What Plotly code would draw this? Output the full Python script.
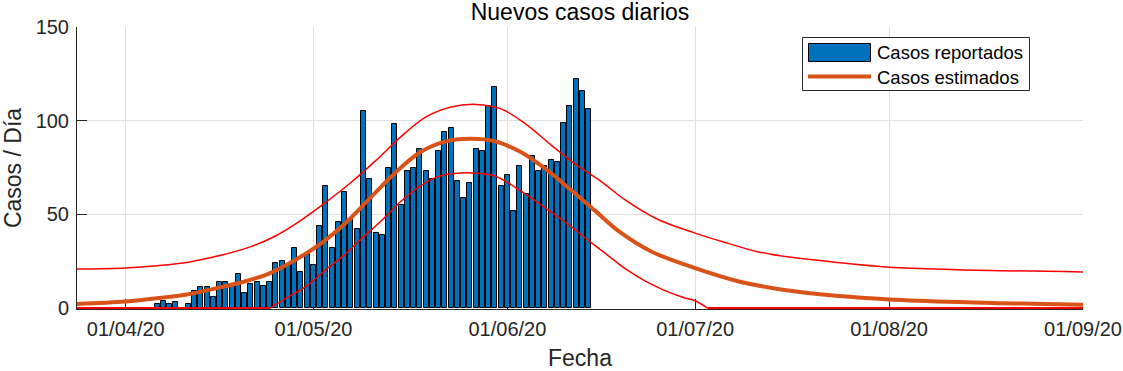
import pandas as pd
import plotly.graph_objects as go

# ---------------- data ----------------
bar_start = "2020-04-06"
bar_values = [2, 4, 2, 3, 0, 2, 9, 11, 11, 6, 14, 14, 12, 18, 8, 13, 14, 12, 14, 24,
              25, 23, 32, 19, 29, 23, 44, 65, 32, 46, 62, 47, 42, 105, 69, 40, 39, 75, 98, 55,
              73, 75, 85, 73, 69, 84, 94, 96, 68, 59, 67, 85, 84, 108, 118, 65, 71, 52, 76, 61,
              81, 73, 76, 79, 78, 99, 108, 122, 116, 106]
bar_dates = pd.date_range(bar_start, periods=len(bar_values), freq="D")

est_dates = ["2020-03-24", "2020-04-01", "2020-04-06", "2020-04-11", "2020-04-16", "2020-04-20",
             "2020-04-24", "2020-04-28", "2020-05-02", "2020-05-06", "2020-05-10", "2020-05-14",
             "2020-05-18", "2020-05-22", "2020-05-26", "2020-05-30", "2020-06-03", "2020-06-07",
             "2020-06-11", "2020-06-15", "2020-06-19", "2020-06-24", "2020-07-01", "2020-07-08",
             "2020-07-15", "2020-07-24", "2020-08-01", "2020-08-12", "2020-08-22", "2020-09-01"]
est_values = [2.2, 3.5, 5.2, 7.4, 11, 14.2, 18.5, 25.5, 34, 45, 58.5, 72, 83, 88.8, 90.3, 89,
              83.5, 74.5, 63.5, 52, 40.5, 30.2, 21.3, 14.2, 9.8, 6.4, 4.6, 3.2, 2.4, 1.8]

upper_dates = ["2020-03-24", "2020-04-01", "2020-04-06", "2020-04-11", "2020-04-16", "2020-04-21",
               "2020-04-25", "2020-04-29", "2020-05-03", "2020-05-07", "2020-05-11", "2020-05-15",
               "2020-05-19", "2020-05-23", "2020-05-27", "2020-05-31", "2020-06-04", "2020-06-08",
               "2020-06-12", "2020-06-16", "2020-06-20", "2020-06-25", "2020-07-01", "2020-07-06",
               "2020-07-11", "2020-07-16", "2020-07-23", "2020-08-01", "2020-08-12", "2020-09-01"]
upper_values = [20.8, 21.4, 22.6, 24.5, 28, 32.8, 38.6, 46.8, 56.5, 67, 78.8, 91.5, 102, 107.3,
                108.7, 106.3, 98, 87, 76.5, 67.5, 57.3, 47.4, 40, 34.8, 30.1, 27.2, 24.6, 21.8,
                20.5, 19.3]

lower_dates = ["2020-03-24", "2020-04-10", "2020-04-18", "2020-04-24", "2020-04-27", "2020-04-30",
               "2020-05-03", "2020-05-06", "2020-05-09", "2020-05-12", "2020-05-15", "2020-05-18",
               "2020-05-21", "2020-05-24", "2020-05-27", "2020-05-30", "2020-06-02", "2020-06-05",
               "2020-06-08", "2020-06-11", "2020-06-14", "2020-06-17", "2020-06-20", "2020-06-23",
               "2020-06-26", "2020-06-29", "2020-07-01", "2020-07-03", "2020-07-20", "2020-09-01"]
lower_values = [0, 0, 0, 0, 6, 12, 20.5, 28.5, 38, 47, 57, 65, 70.3, 72, 72, 70.5, 65, 58.4,
                51.2, 44, 36, 28.3, 20.6, 14.5, 9.6, 5.8, 3.9, 0, 0, 0]

x_tick_dates = ["2020-04-01", "2020-05-01", "2020-06-01", "2020-07-01", "2020-08-01", "2020-09-01"]
y_ticks = [0, 50, 100, 150]

# ---------------- style ----------------
W, H = 1123, 371
ML, MR, MT, MB = 77, 40, 27, 62
PW, PH = W - ML - MR, H - MT - MB
FONT = "Liberation Sans, Arial, Helvetica, sans-serif"
TXT = "#262626"
BLUE = "#0072BD"
ORANGE = "#D95319"
RED = "#FF0000"


def px_x(px):   # window pixel -> paper x
    return (px - ML) / PW


def px_y(py):   # window pixel -> paper y
    return (H - MB - py) / PH


fig = go.Figure()
fig.add_trace(go.Bar(x=bar_dates, y=bar_values, width=0.8 * 86400000,
                     marker=dict(color=BLUE, line=dict(color="black", width=1)),
                     name="Casos reportados", showlegend=False))
fig.add_trace(go.Scatter(x=est_dates, y=est_values, mode="lines",
                         line=dict(color=ORANGE, width=4, shape="spline"),
                         name="Casos estimados", showlegend=False))
fig.add_trace(go.Scatter(x=upper_dates, y=upper_values, mode="lines",
                         line=dict(color=RED, width=1.5, shape="spline"), showlegend=False))

# lower bound: zero stretches drawn straight, the hump drawn smooth
first_pos = next(i for i, v in enumerate(lower_values) if v > 0) - 1
last_pos = max(i for i, v in enumerate(lower_values) if v > 0) + 1
fig.add_trace(go.Scatter(x=lower_dates[:first_pos + 1], y=lower_values[:first_pos + 1],
                         mode="lines", line=dict(color=RED, width=2), showlegend=False))
fig.add_trace(go.Scatter(x=lower_dates[first_pos:last_pos + 1], y=lower_values[first_pos:last_pos + 1],
                         mode="lines", line=dict(color=RED, width=1.5, shape="spline"),
                         showlegend=False))
fig.add_trace(go.Scatter(x=lower_dates[last_pos:], y=lower_values[last_pos:],
                         mode="lines", line=dict(color=RED, width=2), showlegend=False))

# MATLAB-like legend
fig.add_shape(type="rect", xref="paper", yref="paper",
              x0=px_x(802.5), x1=px_x(1029.5), y0=px_y(90.5), y1=px_y(37.5),
              line=dict(color=TXT, width=1), fillcolor="white", layer="above")
fig.add_shape(type="rect", xref="paper", yref="paper",
              x0=px_x(808.5), x1=px_x(870.5), y0=px_y(61.5), y1=px_y(43.5),
              line=dict(color="black", width=1), fillcolor=BLUE, layer="above")
fig.add_shape(type="line", xref="paper", yref="paper",
              x0=px_x(808), x1=px_x(871), y0=px_y(76.5), y1=px_y(76.5),
              line=dict(color=ORANGE, width=4), layer="above")
fig.add_annotation(xref="paper", yref="paper", x=px_x(875), y=px_y(52.5),
                   text="Casos reportados", showarrow=False, xanchor="left", yanchor="middle",
                   font=dict(family=FONT, size=18.5, color="black"))
fig.add_annotation(xref="paper", yref="paper", x=px_x(875), y=px_y(77.5),
                   text="Casos estimados", showarrow=False, xanchor="left", yanchor="middle",
                   font=dict(family=FONT, size=18.5, color="black"))

fig.update_layout(
    width=W, height=H,
    margin=dict(l=ML, r=MR, t=MT, b=MB, autoexpand=False),
    paper_bgcolor="white", plot_bgcolor="white",
    font=dict(family=FONT, size=20, color=TXT),
    title=dict(text="Nuevos casos diarios", xref="paper", x=0.5, xanchor="center",
               y=1 - 12 / H, yanchor="middle",
               font=dict(family=FONT, size=23, color="black")),
    bargap=0,
    showlegend=False,
    xaxis=dict(type="date", range=["2020-03-24 05:00", "2020-09-01"],
               tickvals=x_tick_dates, tickformat="%d/%m/%y",
               ticks="inside", ticklen=10, tickcolor=TXT, tickwidth=1, ticklabelstandoff=2,
               showgrid=True, gridcolor="#dfdfdf", gridwidth=1,
               showline=True, linecolor=TXT, linewidth=1,
               zeroline=False, layer="below traces", automargin=False,
               title=dict(text="Fecha", font=dict(size=23, color=TXT), standoff=12)),
    yaxis=dict(range=[-0.5, 150], tickvals=y_ticks,
               ticks="inside", ticklen=10, tickcolor=TXT, tickwidth=1, ticklabelstandoff=3,
               showgrid=True, gridcolor="#dfdfdf", gridwidth=1,
               showline=True, linecolor=TXT, linewidth=1,
               zeroline=False, layer="below traces", automargin=False,
               title=dict(text="Casos / Día", font=dict(size=23, color=TXT), standoff=9)),
)

fig.write_html("out.html", config={"displayModeBar": False},
               post_script="document.body.style.margin='0px';")
